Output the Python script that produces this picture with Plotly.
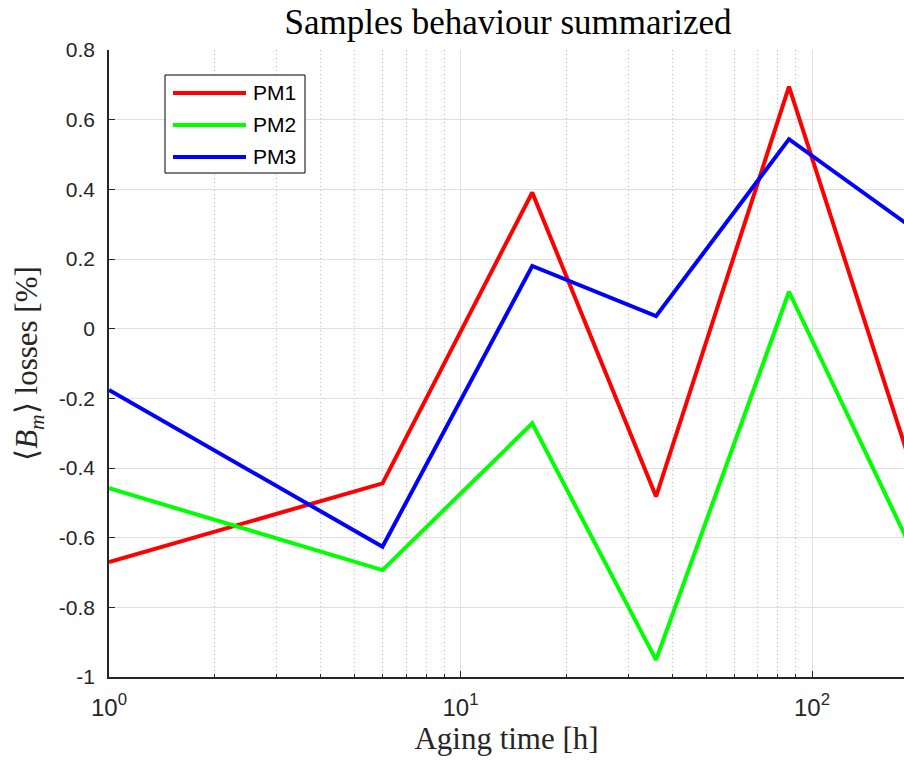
import plotly.graph_objects as go

# Aging time (hours) and mean B_m losses (%) per sample
aging_h = [1, 6, 16, 36, 86, 186]
pm1 = [-0.67, -0.444, 0.391, -0.482, 0.695, -0.353]
pm2 = [-0.458, -0.693, -0.272, -0.951, 0.106, -0.604]
pm3 = [-0.176, -0.626, 0.180, 0.036, 0.544, 0.301]

series_names = ["PM1", "PM2", "PM3"]
series_colors = ["#ff0000", "#00ff00", "#0000ff"]

x_major = [1, 10, 100]
x_major_text = ["10<sup>0</sup>", "10<sup>1</sup>", "10<sup>2</sup>"]
x_minor = [2, 3, 4, 5, 6, 7, 8, 9, 20, 30, 40, 50, 60, 70, 80, 90, 200]
y_ticks = [-1, -0.8, -0.6, -0.4, -0.2, 0, 0.2, 0.4, 0.6, 0.8]
y_tick_text = ["-1", "-0.8", "-0.6", "-0.4", "-0.2", "0", "0.2", "0.4", "0.6", "0.8"]

axis_color = "#262626"
serif = "Liberation Serif"
sans = "Liberation Sans"

W, H = 904, 762
ML, MR, MT, MB = 109, 0, 50, 85
PW, PH = W - ML - MR, H - MT - MB


def px_x(px):
    return (px - ML) / PW


def px_y(py):
    return (H - MB - py) / PH


fig = go.Figure()
for name, vals, col in zip(series_names, [pm1, pm2, pm3], series_colors):
    fig.add_trace(go.Scatter(
        x=aging_h, y=vals, name=name, mode="lines",
        line=dict(color=col, width=4),
        showlegend=False,
    ))

# Boxed legend in the upper-left corner of the axes
shapes = [dict(type="rect", xref="paper", yref="paper",
               x0=px_x(165), x1=px_x(305), y0=px_y(173), y1=px_y(75),
               line=dict(color="black", width=1), fillcolor="white", layer="above")]
annotations = []
for i, (name, col) in enumerate(zip(series_names, series_colors)):
    yy = 93 + 32 * i
    shapes.append(dict(type="line", xref="paper", yref="paper",
                       x0=px_x(173), x1=px_x(246), y0=px_y(yy), y1=px_y(yy),
                       line=dict(color=col, width=4), layer="above"))
    annotations.append(dict(text=name, xref="paper", yref="paper",
                            x=px_x(251), y=px_y(yy), xanchor="left", yanchor="middle",
                            showarrow=False,
                            font=dict(family=sans, size=21, color="black")))

fig.update_layout(
    width=W, height=H,
    margin=dict(l=ML, r=MR, t=MT, b=MB, autoexpand=False),
    paper_bgcolor="white", plot_bgcolor="white",
    title=dict(text="Samples behaviour summarized", x=508 / W, xanchor="center",
               y=1 - 22 / H, yanchor="middle",
               font=dict(family=serif, size=35, color="black")),
    showlegend=False,
    shapes=shapes,
    annotations=annotations,
)

fig.update_xaxes(
    type="log", range=[0, 2.2617],
    tickmode="array", tickvals=x_major, ticktext=x_major_text,
    ticks="inside", ticklen=6, tickcolor=axis_color, tickwidth=1,
    showline=True, linecolor=axis_color, linewidth=1.5, mirror=False,
    showgrid=True, gridcolor="#e0e0e0", gridwidth=1,
    zeroline=False, automargin=False, ticklabelstandoff=8,
    tickfont=dict(family=sans, size=24, color=axis_color),
    minor=dict(tickmode="array", tickvals=x_minor, ticks="inside", ticklen=3,
               tickcolor=axis_color, showgrid=True, gridcolor="#bcbcbc",
               griddash="1px,3px", gridwidth=1),
    title=dict(text="Aging time [h]", font=dict(family=serif, size=31, color="#262626"),
               standoff=6),
)

fig.update_yaxes(
    range=[-1, 0.8],
    tickmode="array", tickvals=y_ticks, ticktext=y_tick_text,
    ticks="inside", ticklen=6, tickcolor=axis_color, tickwidth=1,
    showline=True, linecolor=axis_color, linewidth=1.5, mirror=False,
    showgrid=True, gridcolor="#e0e0e0", gridwidth=1,
    zeroline=False, automargin=False, ticklabelstandoff=8,
    tickfont=dict(family=sans, size=21, color=axis_color),
    title=dict(text="⟨<i>B</i><sub><i>m</i></sub>⟩ losses [%]",
               font=dict(family=serif, size=31, color="#262626"),
               standoff=12),
)

fig.write_html("out.html")
